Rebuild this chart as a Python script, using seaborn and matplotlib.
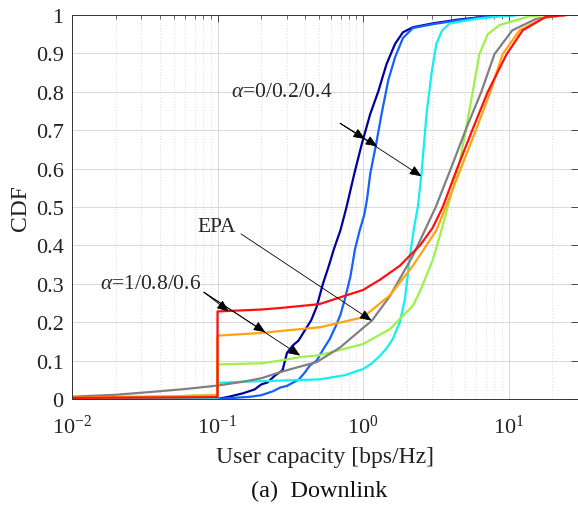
import matplotlib
matplotlib.use('Agg')
import matplotlib.pyplot as plt
import seaborn as sns
from matplotlib.ticker import LogLocator, NullFormatter

# CDF curves (x = user capacity in bps/Hz)
x_a0 = [0.1, 0.12, 0.15, 0.18, 0.2, 0.22, 0.25, 0.28, 0.3, 0.33, 0.36, 0.4, 0.44, 0.48,
        0.53, 0.58, 0.63, 0.7, 0.77, 0.87, 0.98, 1.12, 1.27, 1.45, 1.66, 1.88, 2.2, 3.0,
        4.5, 7.0, 11.0]
cdf_a0 = [0.0, 0.006, 0.015, 0.025, 0.038, 0.043, 0.062, 0.075, 0.12, 0.14, 0.152, 0.18,
          0.205, 0.24, 0.30, 0.345, 0.39, 0.44, 0.50, 0.586, 0.664, 0.742, 0.80, 0.872,
          0.925, 0.955, 0.968, 0.978, 0.988, 0.996, 1.0]

x_a02 = [0.1, 0.13, 0.17, 0.2, 0.24, 0.27, 0.3, 0.32, 0.36, 0.4, 0.43, 0.48, 0.53, 0.59,
         0.65, 0.7, 0.75, 0.82, 0.88, 0.95, 1.02, 1.065, 1.12, 1.23, 1.34, 1.49, 1.66,
         1.88, 2.2, 3.0, 4.5, 7.0, 11.0]
cdf_a02 = [0.0, 0.003, 0.006, 0.01, 0.02, 0.03, 0.034, 0.04, 0.05, 0.07, 0.087, 0.10,
           0.128, 0.156, 0.19, 0.22, 0.26, 0.32, 0.39, 0.44, 0.48, 0.52, 0.586, 0.664,
           0.742, 0.83, 0.89, 0.94, 0.966, 0.976, 0.986, 0.995, 1.0]

x_a04 = [0.01, 0.05, 0.1, 0.1, 0.15, 0.27, 0.5, 0.75, 1.0, 1.15, 1.31, 1.45, 1.6, 1.79,
         1.94, 2.1, 2.25, 2.38, 2.52, 2.73, 2.96, 3.19, 3.5, 3.94, 6.0, 9.0, 12.0]
cdf_a04 = [0.0, 0.001, 0.002, 0.042, 0.045, 0.048, 0.051, 0.062, 0.078, 0.093, 0.113,
           0.132, 0.156, 0.2, 0.26, 0.373, 0.45, 0.5, 0.586, 0.742, 0.85, 0.925, 0.96,
           0.978, 0.99, 0.997, 1.0]

x_a06 = [0.01, 0.05, 0.1, 0.1, 0.2, 0.27, 0.37, 0.5, 1.0, 1.53, 2.2, 2.46, 3.0, 3.4,
         3.82, 4.54, 5.1, 5.67, 6.3, 7.2, 8.7, 14.0, 20.0]
cdf_a06 = [0.004, 0.007, 0.011, 0.09, 0.093, 0.10, 0.109, 0.114, 0.143, 0.182, 0.243,
           0.28, 0.36, 0.43, 0.5, 0.604, 0.703, 0.80, 0.898, 0.95, 0.974, 0.997, 1.0]

x_a08 = [0.01, 0.05, 0.1, 0.1, 0.2, 0.27, 0.51, 1.0, 1.53, 2.2, 3.2, 3.7, 4.74, 6.0,
         7.5, 9.1, 11.9, 18.0, 25.0]
cdf_a08 = [0.004, 0.007, 0.01, 0.165, 0.172, 0.177, 0.187, 0.213, 0.27, 0.347, 0.44,
           0.5, 0.604, 0.703, 0.80, 0.898, 0.96, 0.995, 1.0]

x_a1 = [0.01, 0.05, 0.1, 0.1, 0.2, 0.27, 0.5, 1.0, 1.3, 1.79, 2.46, 3.0, 3.53, 4.47,
        5.67, 7.2, 9.7, 12.5, 18.0, 25.0]
cdf_a1 = [0.003, 0.004, 0.005, 0.228, 0.233, 0.237, 0.247, 0.284, 0.31, 0.347, 0.40,
          0.445, 0.5, 0.604, 0.703, 0.80, 0.898, 0.96, 0.995, 1.0]

x_epa = [0.01, 0.02, 0.034, 0.06, 0.1, 0.15, 0.2, 0.27, 0.35, 0.48, 0.7, 1.0, 1.15,
         1.53, 2.2, 3.16, 4.05, 5.1, 6.5, 8.0, 10.6, 15.5, 25.0]
cdf_epa = [0.006, 0.011, 0.018, 0.026, 0.035, 0.045, 0.054, 0.07, 0.082, 0.096, 0.135,
           0.185, 0.204, 0.268, 0.373, 0.5, 0.604, 0.703, 0.80, 0.898, 0.96, 0.99, 1.0]

curves = [
    (x_a0, cdf_a0, '#00009c'),
    (x_a02, cdf_a02, '#1560ff'),
    (x_a04, cdf_a04, '#14eeee'),
    (x_a06, cdf_a06, '#9ef04a'),
    (x_epa, cdf_epa, '#808080'),
    (x_a08, cdf_a08, '#ffa30f'),
    (x_a1, cdf_a1, '#ff1010'),
]

sns.set_style('white')
plt.rcParams['font.family'] = ['Liberation Serif', 'DejaVu Serif']
plt.rcParams['mathtext.fontset'] = 'custom'
plt.rcParams['mathtext.rm'] = 'Liberation Serif'
plt.rcParams['mathtext.it'] = 'Liberation Serif:italic'

fig = plt.figure(figsize=(5.78, 5.1), dpi=100)
ax = fig.add_axes([72 / 578, 110 / 510, 506 / 578, 384 / 510])

for xs, ys, col in curves:
    sns.lineplot(x=xs, y=ys, estimator=None, sort=False, color=col, lw=1.6, ax=ax)

ax.set_xscale('log')
ax.set_xlim(0.01, 30)
ax.set_ylim(0, 1)

# grid: solid major, dotted minor (MATLAB look)
ax.xaxis.set_minor_locator(LogLocator(base=10, subs=range(2, 10)))
ax.xaxis.set_minor_formatter(NullFormatter())
ax.set_xticks([0.01, 0.1, 1, 10])
ax.set_xticklabels(['10$^{-2}$', '10$^{-1}$', '10$^{0}$', '10$^{1}$'])
yt = [i / 10 for i in range(11)]
ax.set_yticks(yt)
ax.set_yticklabels(['0'] + ['%.1f' % v for v in yt[1:-1]] + ['1'])
ax.grid(True, which='major', color='#d8d8d8', lw=0.7, ls='-')
ax.grid(True, which='minor', axis='x', color='#cfcfcf', lw=0.6, ls=(0, (1, 2.5)))
ax.set_axisbelow(True)

ax.tick_params(which='both', direction='in', top=True, right=True, colors='#333333',
               labelcolor='#222222', labelsize=16)
ax.tick_params(axis='y', pad=6)
ax.tick_params(axis='x', pad=11)
ax.tick_params(which='major', length=5, width=0.6)
ax.tick_params(which='minor', length=3, width=0.5)
for s in ax.spines.values():
    s.set_color('#333333')
    s.set_linewidth(0.7)

ax.set_xlabel('')
ax.set_ylabel('CDF', fontsize=17, color='#222222')
ax.yaxis.set_label_coords(-0.082, 0.5)
fig.text(325 / 578, 0.102, 'User capacity [bps/Hz]', fontsize=17, color='#222222',
         ha='center', va='center')
fig.text(319 / 578, 0.036, '(a)  Downlink', fontsize=17.5, color='#111111',
         ha='center', va='center')

arrow = dict(arrowstyle='-|>,head_length=0.6,head_width=0.25', color='k', lw=0.6,
             mutation_scale=12, shrinkA=0, shrinkB=0)

ax.text(0.124, 0.80, r'$\it{\alpha}$=0/0.2/0.4', fontsize=15.5, ha='left', va='center')
for tip in [(1.032, 0.677), (1.253, 0.658), (2.52, 0.58)]:
    ax.annotate('', xy=tip, xytext=(0.696, 0.718), arrowprops=arrow)

ax.text(0.0984, 0.45, 'EPA', fontsize=15.5, ha='center', va='center')
ax.annotate('', xy=(1.147, 0.204), xytext=(0.145, 0.43), arrowprops=arrow)

ax.text(0.0156, 0.302, r'$\it{\alpha}$=1/0.8/0.6', fontsize=15.5, ha='left', va='center')
for tip in [(0.1195, 0.228), (0.213, 0.174), (0.37, 0.113)]:
    ax.annotate('', xy=tip, xytext=(0.0806, 0.278), arrowprops=arrow)

fig.savefig('out.png', dpi=100)
